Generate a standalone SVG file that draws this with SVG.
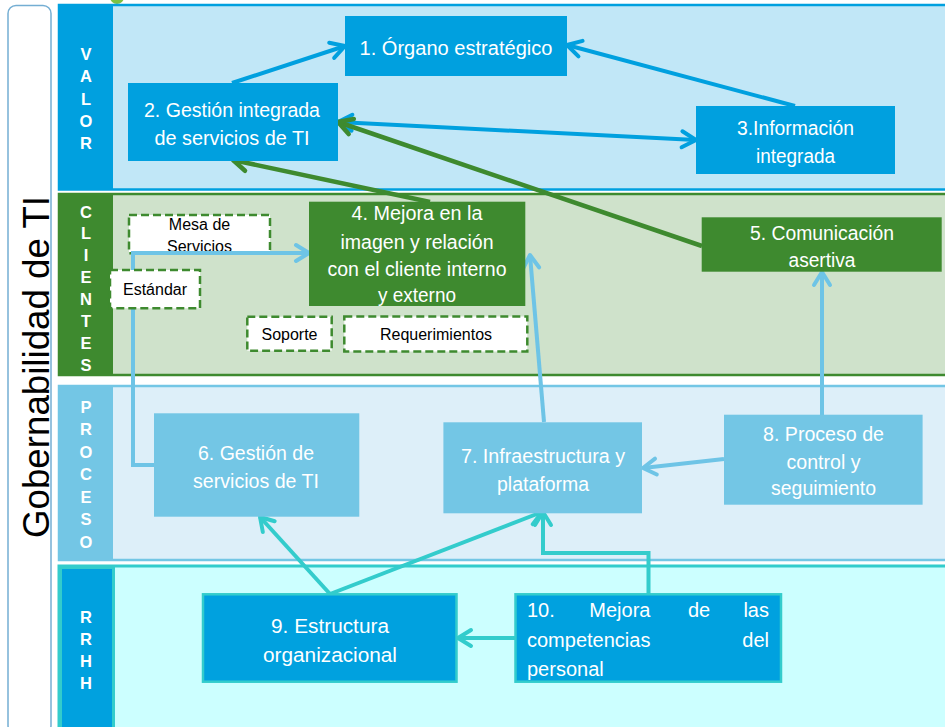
<svg xmlns="http://www.w3.org/2000/svg" width="945" height="727" viewBox="0 0 945 727">
<style>
.nt{font-family:"Liberation Sans",Arial,sans-serif;font-size:20px;fill:#fff;text-anchor:middle}
.nl{font-family:"Liberation Sans",Arial,sans-serif;font-size:20px;fill:#fff}
.dt{font-family:"Liberation Sans",Arial,sans-serif;font-size:16px;fill:#000;text-anchor:middle}
.bl{font-family:"Liberation Sans",Arial,sans-serif;font-size:16.5px;font-weight:bold;fill:#fff;text-anchor:middle}
.dash{fill:#fff;stroke:#3e8a2f;stroke-width:2.5;stroke-dasharray:8 4}
.cb{fill:none;stroke:#00a0df;stroke-width:4}
.cg{fill:none;stroke:#3e8a2f;stroke-width:4.5}
.cl{fill:none;stroke:#6ec4e6;stroke-width:4}
.ct{fill:none;stroke:#33cccc;stroke-width:4}
.n1{fill:#00a0df}
.n2{fill:#3e8a2f}
.n3{fill:#73c6e5}
.n4{fill:#00a1df;stroke:#33cccc;stroke-width:2.5}
</style>
<defs>
<marker id="mB" markerUnits="userSpaceOnUse" markerWidth="40" markerHeight="40" viewBox="-20 -20 40 40" refX="0" refY="0" orient="auto-start-reverse"><path d="M-14,-8 L0,0 L-14,8" fill="none" stroke="#00a0df" stroke-width="4" stroke-linecap="round" stroke-linejoin="round"/></marker>
<marker id="mG" markerUnits="userSpaceOnUse" markerWidth="40" markerHeight="40" viewBox="-20 -20 40 40" refX="0" refY="0" orient="auto"><path d="M-14,-8 L0,0 L-14,8" fill="none" stroke="#3e8a2f" stroke-width="4.5" stroke-linecap="round" stroke-linejoin="round"/></marker>
<marker id="mL" markerUnits="userSpaceOnUse" markerWidth="40" markerHeight="40" viewBox="-20 -20 40 40" refX="0" refY="0" orient="auto"><path d="M-13,-8 L0,0 L-13,8" fill="none" stroke="#6ec4e6" stroke-width="4" stroke-linecap="round" stroke-linejoin="round"/></marker>
<marker id="mT" markerUnits="userSpaceOnUse" markerWidth="40" markerHeight="40" viewBox="-20 -20 40 40" refX="0" refY="0" orient="auto"><path d="M-13,-8 L0,0 L-13,8" fill="none" stroke="#33cccc" stroke-width="4" stroke-linecap="round" stroke-linejoin="round"/></marker>
</defs>
<rect width="945" height="727" fill="#fff"/>
<circle cx="117" cy="-3" r="7" fill="#7dc142"/>
<g id="frame">
<rect x="8" y="5.5" width="43" height="728" rx="8" fill="#fff" stroke="#74aed3" stroke-width="1.5"/>
<text transform="translate(49,367) rotate(-90)" font-family="'Liberation Sans',Arial,sans-serif" font-size="36.7" fill="#000" text-anchor="middle">Gobernabilidad de TI</text>
</g>
<g id="band-valor">
<rect x="59" y="5" width="910" height="184.5" fill="#c1e7f7" stroke="#00a0df" stroke-width="2.5"/>
<rect x="59" y="5" width="54" height="184.5" fill="#00a0df"/>
<text class="bl"><tspan x="86" y="60">V</tspan><tspan x="86" y="82.3">A</tspan><tspan x="86" y="104.5">L</tspan><tspan x="86" y="126.8">O</tspan><tspan x="86" y="149">R</tspan></text>
</g>
<g id="band-clientes">
<rect x="59" y="194" width="910" height="181" fill="#cfe2cb" stroke="#3e8a2f" stroke-width="2.5"/>
<rect x="59" y="194" width="54" height="181" fill="#3e8a2f"/>
<text class="bl"><tspan x="86" y="217.5">C</tspan><tspan x="86" y="239.4">L</tspan><tspan x="86" y="261.3">I</tspan><tspan x="86" y="283.2">E</tspan><tspan x="86" y="305.1">N</tspan><tspan x="86" y="327">T</tspan><tspan x="86" y="348.9">E</tspan><tspan x="86" y="371">S</tspan></text>
</g>
<g id="band-proceso">
<rect x="59" y="386" width="910" height="174" fill="#ddeff9" stroke="#73c6e5" stroke-width="2.5"/>
<rect x="59" y="386" width="54" height="174" fill="#73c6e5"/>
<text class="bl"><tspan x="86" y="413">P</tspan><tspan x="86" y="435.4">R</tspan><tspan x="86" y="457.8">O</tspan><tspan x="86" y="480.2">C</tspan><tspan x="86" y="502.6">E</tspan><tspan x="86" y="525">S</tspan><tspan x="86" y="547.5">O</tspan></text>
</g>
<g id="band-rrhh">
<rect x="59" y="566" width="910" height="170" fill="#ccffff" stroke="#33cccc" stroke-width="3"/>
<rect x="60.5" y="567.5" width="53" height="170" fill="#00a1df" stroke="#33cccc" stroke-width="3"/>
<text class="bl"><tspan x="86" y="622.5">R</tspan><tspan x="86" y="644.7">R</tspan><tspan x="86" y="666.9">H</tspan><tspan x="86" y="689">H</tspan></text>
</g>
<g id="node-mesa">
<rect class="dash" x="129" y="215" width="141" height="38.3"/>
<text class="dt"><tspan x="199.5" y="230">Mesa de</tspan><tspan x="199.5" y="251.5">Servicios</tspan></text>
</g>
<g id="connectors">
<path class="cb" d="M232,83 L345,46" marker-end="url(#mB)"/>
<path class="cb" d="M795,106 L567,45" marker-end="url(#mB)"/>
<path class="cb" d="M338,122 L696,140" marker-start="url(#mB)" marker-end="url(#mB)"/>
<path class="cg" d="M702,246 L338,122" marker-end="url(#mG)"/>
<path class="cg" d="M430,202 L233,160" marker-end="url(#mG)"/>
<path class="cl" d="M154,465 L133,465 L133,253 L309,253" marker-end="url(#mL)"/>
<path class="cl" d="M544,422 L530,255" marker-end="url(#mL)"/>
<path class="cl" d="M822,415 L822,272" marker-end="url(#mL)"/>
<path class="cl" d="M724,459 L643,468" marker-end="url(#mL)"/>
<path class="ct" d="M330,594 L260,517" marker-end="url(#mT)"/>
<path class="ct" d="M330,594 L542,512" marker-end="url(#mT)"/>
<path class="ct" d="M648.5,594 L648.5,553 L543,553 L543,512" marker-end="url(#mT)"/>
<path class="ct" d="M516,638 L458,638" marker-end="url(#mT)"/>
</g>
<g id="node-estandar">
<rect class="dash" x="110" y="270" width="90" height="38.3"/>
<text class="dt" x="155" y="295">Estándar</text>
</g>
<g id="node-soporte">
<rect class="dash" x="247.3" y="316.7" width="84.4" height="34"/>
<text class="dt" x="289.5" y="340">Soporte</text>
</g>
<g id="node-requerimientos">
<rect class="dash" x="344.3" y="316.5" width="183" height="35"/>
<text class="dt" x="436" y="340">Requerimientos</text>
</g>
<g id="node-1">
<rect class="n1" x="345" y="16" width="222" height="60"/>
<text class="nt" x="456" y="55" textLength="193" lengthAdjust="spacingAndGlyphs">1. Órgano estratégico</text>
</g>
<g id="node-2">
<rect class="n1" x="128" y="83" width="210" height="78"/>
<text class="nt" x="232" y="117" textLength="176" lengthAdjust="spacingAndGlyphs">2. Gestión integrada</text>
<text class="nt" x="232" y="145" textLength="155" lengthAdjust="spacingAndGlyphs">de servicios de TI</text>
</g>
<g id="node-3">
<rect class="n1" x="696" y="106" width="199" height="68"/>
<text class="nt" x="795.5" y="135" textLength="117" lengthAdjust="spacingAndGlyphs">3.Información</text>
<text class="nt" x="795.5" y="162.5" textLength="79" lengthAdjust="spacingAndGlyphs">integrada</text>
</g>
<g id="node-4">
<rect class="n2" x="309" y="201.7" width="216.3" height="104.3"/>
<text class="nt" x="417" y="220" textLength="131" lengthAdjust="spacingAndGlyphs">4. Mejora en la</text>
<text class="nt" x="417" y="248.5" textLength="153" lengthAdjust="spacingAndGlyphs">imagen y relación</text>
<text class="nt" x="417" y="275.5" textLength="179" lengthAdjust="spacingAndGlyphs">con el cliente interno</text>
<text class="nt" x="417" y="301.7" textLength="78" lengthAdjust="spacingAndGlyphs">y externo</text>
</g>
<g id="node-5">
<rect class="n2" x="701.7" y="217.3" width="240" height="54.4"/>
<text class="nt" x="822" y="240" textLength="144" lengthAdjust="spacingAndGlyphs">5. Comunicación</text>
<text class="nt" x="822" y="266.5" textLength="67" lengthAdjust="spacingAndGlyphs">asertiva</text>
</g>
<g id="node-6">
<rect class="n3" x="154" y="413.3" width="205.3" height="103.4"/>
<text class="nt" x="256" y="460" textLength="116" lengthAdjust="spacingAndGlyphs">6. Gestión de</text>
<text class="nt" x="256" y="487.7" textLength="126" lengthAdjust="spacingAndGlyphs">servicios de TI</text>
</g>
<g id="node-7">
<rect class="n3" x="443.4" y="422.3" width="198.6" height="91"/>
<text class="nt" x="543" y="463.3" textLength="164" lengthAdjust="spacingAndGlyphs">7. Infraestructura y</text>
<text class="nt" x="543" y="490.7" textLength="92" lengthAdjust="spacingAndGlyphs">plataforma</text>
</g>
<g id="node-8">
<rect class="n3" x="724" y="414.7" width="198.6" height="90"/>
<text class="nt" x="823.5" y="441" textLength="121" lengthAdjust="spacingAndGlyphs">8. Proceso de</text>
<text class="nt" x="823.5" y="469.3" textLength="74" lengthAdjust="spacingAndGlyphs">control y</text>
<text class="nt" x="823.5" y="495" textLength="105" lengthAdjust="spacingAndGlyphs">seguimiento</text>
</g>
<g id="node-9">
<rect class="n4" x="203" y="594.3" width="253.5" height="87.4"/>
<text class="nt" x="330" y="632.7" textLength="118" lengthAdjust="spacingAndGlyphs">9. Estructura</text>
<text class="nt" x="330" y="661.7" textLength="134" lengthAdjust="spacingAndGlyphs">organizacional</text>
</g>
<g id="node-10">
<rect class="n4" x="515.5" y="594.3" width="265.5" height="87.4"/>
<text class="nl" y="617.3"><tspan x="527">10.</tspan><tspan x="589.3">Mejora</tspan><tspan x="688">de</tspan><tspan x="769" text-anchor="end">las</tspan></text>
<text class="nl" y="647.3"><tspan x="527">competencias</tspan><tspan x="769" text-anchor="end">del</tspan></text>
<text class="nl" x="527" y="676">personal</text>
</g>
</svg>
